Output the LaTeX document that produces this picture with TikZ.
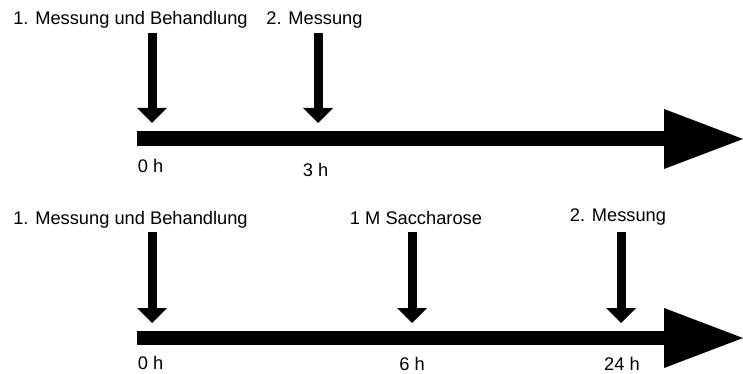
\documentclass[tikz,border=0pt]{standalone}
\usepackage{fontspec}
\setmainfont{Liberation Sans}
\usetikzlibrary{calc,arrows.meta}

\begin{document}
\begin{tikzpicture}[x=0.02cm,y=-0.02cm,
	timeline/.style={line width=0.3cm,-{Triangle[length=1.58cm,width=1.2cm,line width=0pt]}},
	event/.style={line width=0.18cm,-{Triangle[length=0.3cm,width=0.6cm,line width=0pt]}},
	txt/.style={anchor=base,inner sep=0pt,font=\fontsize{10.4}{12}\selectfont}]

	\useasboundingbox (0,0) rectangle (743,374);

	% define the coordinates of the first timeline
	\coordinate (A) at (137,139);
	\coordinate (B) at (743,139);
	% draw the first timeline
	\draw[timeline] (A)--(B);

	% events on the first timeline
	\node[txt] (E) at (130.5,25) {1. Messung und Behandlung};
	\node[txt] (F) at (314.5,25) {2. Messung};
	\coordinate (E1) at (152,33);
	\coordinate (E2) at (152,123);
	\coordinate (F1) at (318,33);
	\coordinate (F2) at (318,123);
	\draw[event] (E1)--(E2);
	\draw[event] (F1)--(F2);
	% times below it
	\node[txt] (E3) at (150.5,173) {0 h};
	\node[txt] (F3) at (315.5,177) {3 h};

	% define the coordinates of the second timeline
	\coordinate (C) at (137,338);
	\coordinate (D) at (743,338);
	% draw the second timeline
	\draw[timeline] (C)--(D);

	% events on the second timeline
	\node[txt] (G) at (130.5,225) {1. Messung und Behandlung};
	\node[txt] (H) at (416,225) {1 M Saccharose};
	\node[txt] (K) at (618,222) {2. Messung};
	\coordinate (G1) at (152,232);
	\coordinate (G2) at (152,323);
	\coordinate (H1) at (412,232);
	\coordinate (H2) at (412,323);
	\coordinate (K1) at (621,232);
	\coordinate (K2) at (621,323);
	\draw[event] (G1)--(G2);
	\draw[event] (H1)--(H2);
	\draw[event] (K1)--(K2);
	% times below it
	\node[txt] (G3) at (150.5,370) {0 h};
	\node[txt] (H3) at (412,371) {6 h};
	\node[txt] (K3) at (622,371) {24 h};

\end{tikzpicture}
\end{document}
